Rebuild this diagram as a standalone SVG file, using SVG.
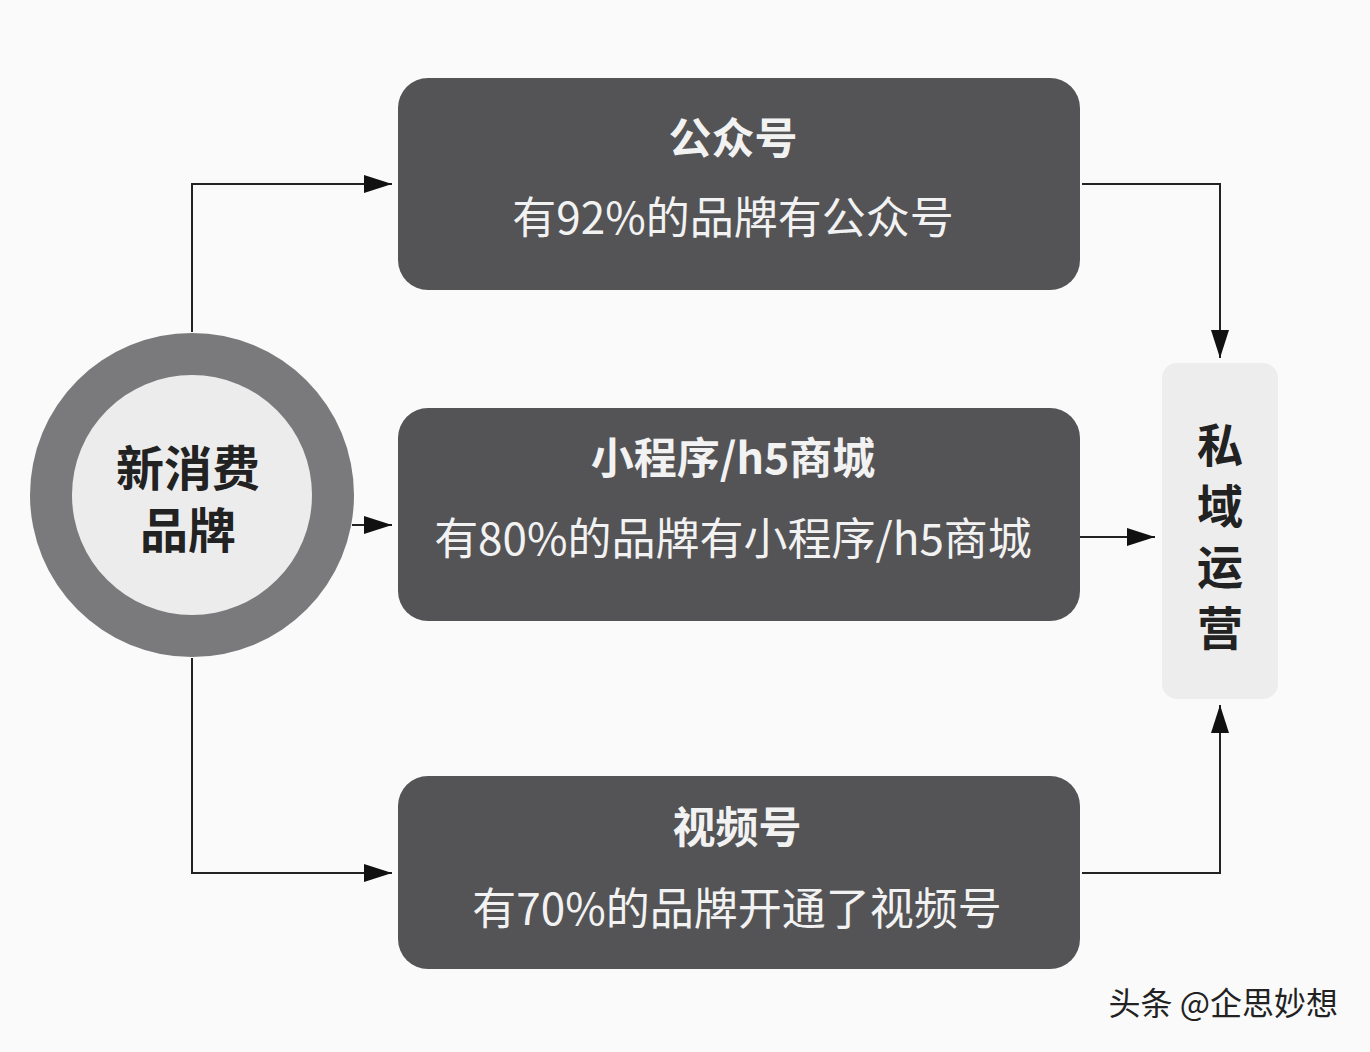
<svg xmlns="http://www.w3.org/2000/svg" width="1370" height="1052" viewBox="0 0 1370 1052">
<defs>
<marker id="ahb" viewBox="0 0 10 10" refX="10" refY="5" markerWidth="28" markerHeight="18" markerUnits="userSpaceOnUse" orient="auto" preserveAspectRatio="none"><path d="M0,0 L10,5 L0,10 z" fill="#111"/></marker>
<style>
.box{fill:#545456}
.t{font-family:"Noto Sans CJK SC","Noto Sans",sans-serif;fill:#f2f2f2;text-anchor:middle}
.h{font-weight:bold;font-size:43px}
.s{font-size:44px}
.c{fill:none;stroke:#222;stroke-width:2}
.d{font-family:"Noto Sans CJK SC",sans-serif;font-weight:bold;fill:#222;text-anchor:middle}
</style>
</defs>
<rect width="1370" height="1052" fill="#fafafa"/>
<g id="connectors">
<path class="c" d="M192,332 V184 H392" marker-end="url(#ahb)"/>
<path class="c" d="M352,525 H392" marker-end="url(#ahb)"/>
<path class="c" d="M192,658 V873 H392" marker-end="url(#ahb)"/>
<path class="c" d="M1082,184 H1220 V358" marker-end="url(#ahb)"/>
<path class="c" d="M1078,537 H1155" marker-end="url(#ahb)"/>
<path class="c" d="M1082,873 H1220 V705" marker-end="url(#ahb)"/>
</g>
<g id="source">
<circle cx="192" cy="495" r="162" fill="#7a7a7c"/>
<circle cx="192" cy="495" r="120" fill="#ececec"/>
<text class="d" x="188" y="486" font-size="48">新消费</text>
<text class="d" x="188" y="548" font-size="48">品牌</text>
</g>
<g id="gzh">
<rect class="box" x="398" y="78" width="682" height="212" rx="30"/>
<text class="t h" x="733" y="154">公众号</text>
<text class="t s" x="733" y="234">有92%的品牌有公众号</text>
</g>
<g id="xcx">
<rect class="box" x="398" y="408" width="682" height="213" rx="30"/>
<text class="t h" x="733" y="474">小程序/h5商城</text>
<text class="t s" x="733" y="555">有80%的品牌有小程序/h5商城</text>
</g>
<g id="sph">
<rect class="box" x="398" y="776" width="682" height="193" rx="30"/>
<text class="t h" x="737" y="843">视频号</text>
<text class="t s" x="737" y="925">有70%的品牌开通了视频号</text>
</g>
<g id="private">
<rect x="1162" y="363" width="116" height="336" rx="15" fill="#ededed"/>
<text class="d" x="1220" y="462" font-size="46">私</text>
<text class="d" x="1220" y="523" font-size="46">域</text>
<text class="d" x="1220" y="584" font-size="46">运</text>
<text class="d" x="1220" y="645" font-size="46">营</text>
</g>
<text x="1338" y="1015" font-family="Noto Sans CJK SC,sans-serif" font-size="32" fill="#222" text-anchor="end">头条 @企思妙想</text>
</svg>
